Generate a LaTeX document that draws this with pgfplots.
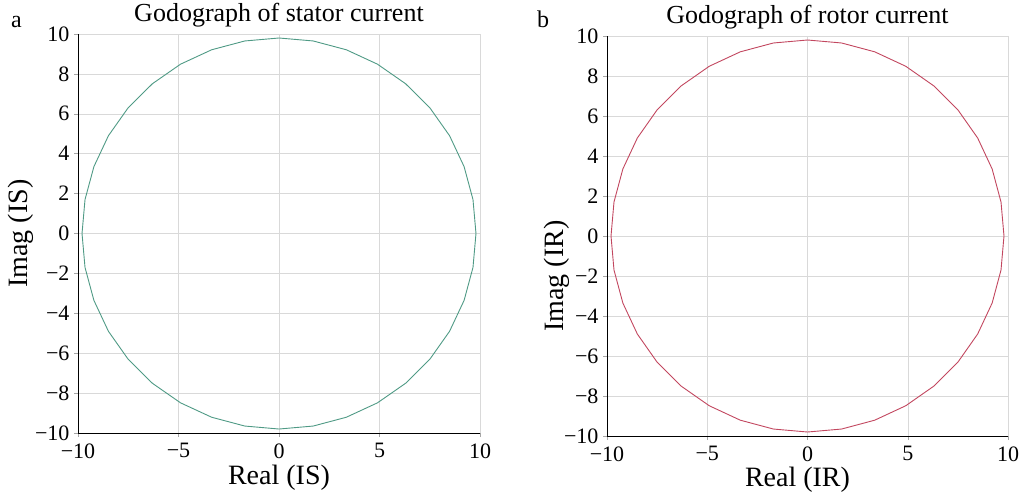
\documentclass[border=0pt]{standalone}
\usepackage{pgfplots}
\pgfplotsset{compat=1.18}
\usepackage{fontspec}
\setmainfont{Liberation Serif}
\definecolor{stator}{HTML}{4F9A85}
\definecolor{rotor}{HTML}{C2475F}
\pgfplotstableread{
x y
9.800 0.000
9.651 1.702
9.209 3.352
8.487 4.900
7.507 6.299
6.299 7.507
4.900 8.487
3.352 9.209
1.702 9.651
0.000 9.800
-1.702 9.651
-3.352 9.209
-4.900 8.487
-6.299 7.507
-7.507 6.299
-8.487 4.900
-9.209 3.352
-9.651 1.702
-9.800 0.000
-9.651 -1.702
-9.209 -3.352
-8.487 -4.900
-7.507 -6.299
-6.299 -7.507
-4.900 -8.487
-3.352 -9.209
-1.702 -9.651
0.000 -9.800
1.702 -9.651
3.352 -9.209
4.900 -8.487
6.299 -7.507
7.507 -6.299
8.487 -4.900
9.209 -3.352
9.651 -1.702
9.800 0.000
}\circdata
\pgfplotsset{
  godo/.style={
    scale only axis,
    anchor=south west,
    xmin=-10, xmax=10, ymin=-10, ymax=10,
    xtick={-10,-5,0,5,10},
    xticklabels={−10,−5,0,5,10},
    ytick={-10,-8,-6,-4,-2,0,2,4,6,8,10},
    yticklabels={−10,−8,−6,−4,−2,0,2,4,6,8,10},
    axis x line*=bottom, axis y line*=left,
    axis line style={-, black, line width=0.9pt},
    grid=major,
    major grid style={gray!30, line width=0.5pt},
    tick align=outside,
    major tick length=4pt,
    tick style={gray!70, line width=0.5pt},
    ticklabel style={font=\fontsize{22}{24}\selectfont},
    xticklabel style={yshift=-3pt},
    yticklabel style={xshift=-1pt},
    label style={font=\fontsize{28}{30}\selectfont},
    title style={font=\fontsize{26}{28}\selectfont, at={(0.5,1)}, anchor=south, inner sep=0pt, yshift=1pt},
  }
}
\begin{document}
\begin{tikzpicture}
\useasboundingbox (0,0) rectangle (1023pt,-491pt);
\begin{axis}[godo, at={(78pt,-433pt)}, width=402pt, height=399pt,
  title={Godograph of stator current},
  xlabel={Real (IS)}, ylabel={Imag (IS)},
  xlabel style={at={(0.5,0)}, anchor=base, yshift=-51pt},
  ylabel style={at={(0,0.5)}, anchor=south, yshift=41pt}]
\addplot[stator, line width=0.9pt] table[x=x,y=y] {\circdata};
\end{axis}
\begin{axis}[godo, at={(607pt,-436pt)}, width=401pt, height=400pt,
  title={Godograph of rotor current},
  xlabel={Real (IR)}, ylabel={Imag (IR)},
  xlabel style={at={(0.5,0)}, anchor=base, xshift=-10pt, yshift=-50pt},
  ylabel style={at={(0,0.4)}, anchor=south, yshift=34pt}]
\addplot[rotor, line width=0.9pt] table[x=x,y=y] {\circdata};
\end{axis}
\node[anchor=base west, inner sep=0pt, font=\fontsize{24}{26}\selectfont] at (11pt,-27pt) {a};
\node[anchor=base west, inner sep=0pt, font=\fontsize{24}{26}\selectfont] at (537pt,-27pt) {b};
\end{tikzpicture}
\end{document}
